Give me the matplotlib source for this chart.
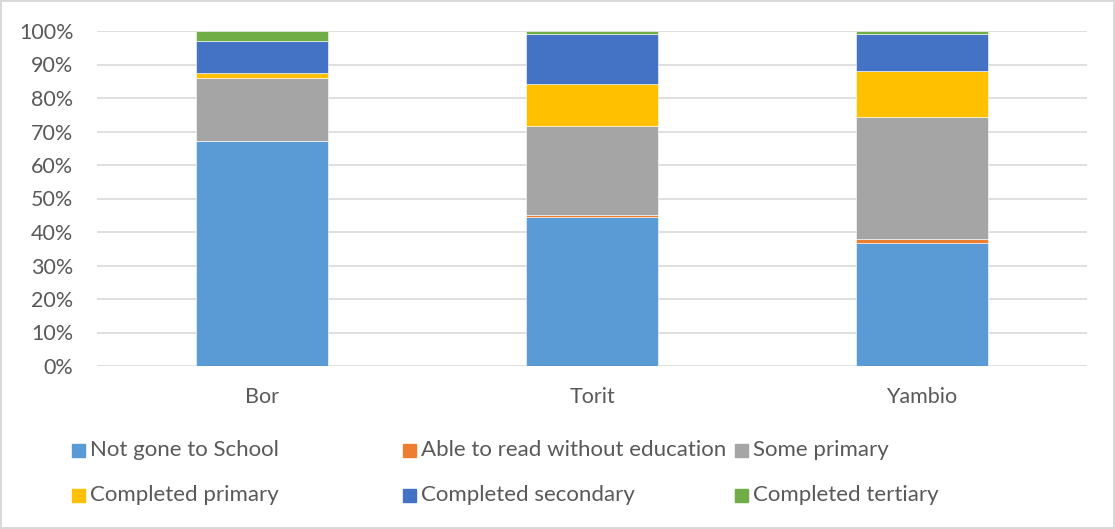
import numpy as np
import matplotlib.pyplot as plt
from matplotlib.patches import Rectangle

plt.rcParams['font.family'] = ['Lato', 'DejaVu Sans']

# data (percent of respondents)
locations = ['Bor', 'Torit', 'Yambio']
not_gone = [67.2, 44.4, 36.7]
able_read = [0.0, 0.8, 1.3]
some_primary = [18.7, 26.5, 36.3]
completed_primary = [1.5, 12.6, 13.9]
completed_secondary = [9.7, 14.9, 11.0]
completed_tertiary = [2.9, 0.8, 0.8]

series = [
    ('Not gone to School', not_gone, '#5B9BD5'),
    ('Able to read without education', able_read, '#ED7D31'),
    ('Some primary', some_primary, '#A5A5A5'),
    ('Completed primary', completed_primary, '#FFC000'),
    ('Completed secondary', completed_secondary, '#4472C4'),
    ('Completed tertiary', completed_tertiary, '#70AD47'),
]

W, H = 1115, 529
fig = plt.figure(figsize=(W / 100, H / 100), dpi=100)
fig.patch.set_edgecolor('#d9d9d9')
fig.patch.set_linewidth(1.5)
ax = fig.add_axes([97 / W, 1 - 366 / H, (1087 - 97) / W, (366 - 31) / H])

x = np.arange(len(locations))
bottom = np.zeros(len(locations))
for name, vals, col in series:
    vals = np.array(vals)
    ax.bar(x, vals, 0.4, bottom=bottom, color=col, edgecolor='white', linewidth=0.4, zorder=3)
    bottom += vals

ax.set_xlim(-0.5, 2.5)
ax.set_ylim(0, 100)
ax.set_yticks(np.arange(0, 101, 10))
ax.set_yticklabels([f'{v}%' for v in range(0, 101, 10)])
ax.set_xticks(x)
ax.set_xticklabels(locations)
ax.grid(axis='y', color='#d9d9d9', linewidth=1.2, zorder=0)
for s in ax.spines.values():
    s.set_visible(False)
ax.tick_params(length=0, labelsize=15.5, colors='#595959')
ax.tick_params(axis='y', pad=17)
ax.tick_params(axis='x', pad=15)

# legend laid out like the Excel one (3 columns, 2 rows)
col_x = [72, 403, 735]
row_y = [450, 495]
for i, (name, vals, col) in enumerate(series):
    cx = col_x[i % 3]
    cy = row_y[i // 3]
    fig.patches.append(Rectangle((cx / W, 1 - (cy + 6.5) / H), 13 / W, 13 / H,
                                 transform=fig.transFigure, color=col))
    fig.text((cx + 18) / W, 1 - cy / H, name, fontsize=16, color='#595959',
             va='center', ha='left')

fig.savefig('out.png', dpi=100)
